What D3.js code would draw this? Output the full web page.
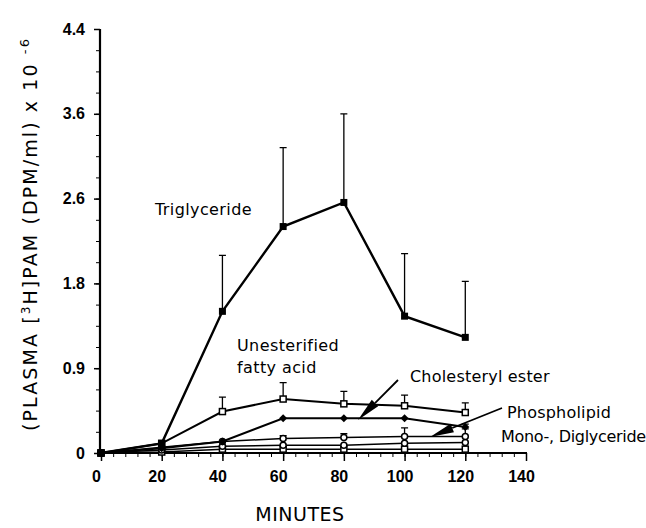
<!DOCTYPE html>
<html>
<head>
<meta charset="utf-8">
<script src="https://cdn.jsdelivr.net/npm/d3@7"></script>
<style>
body { margin: 0; background: #fff; }
svg { display: block; font-family: "DejaVu Sans", sans-serif; }
</style>
</head>
<body>
<svg class="chart" width="646" height="528"></svg>
<script>
const MINUTES = [0, 20, 40, 60, 80, 100, 120];

const triglyceride = [0, 0.1, 1.47, 2.35, 2.6, 1.42, 1.2];
const triglycerideErr = [null, null, 2.05, 3.17, 3.52, 2.07, 1.78];
const fattyAcid = [0, 0.1, 0.43, 0.56, 0.51, 0.49, 0.42];
const fattyAcidErr = [null, null, 0.58, 0.73, 0.64, 0.6, 0.52];
const cholesterylEster = [0, 0.05, 0.12, 0.36, 0.36, 0.36, 0.27];
const cholesterylErr = [null, null, null, null, null, null, 0.3];
const phospholipid = [0, 0.06, 0.12, 0.15, 0.16, 0.17, 0.17];
const phospholipidErr = [null, null, null, 0.18, 0.2, 0.26, 0.25];
const diglyceride = [0, 0.03, 0.07, 0.08, 0.08, 0.1, 0.11];
const monoglyceride = [0, 0.01, 0.04, 0.04, 0.04, 0.04, 0.04];

const Y_TICKS = [0, 0.88, 1.76, 2.64, 3.52, 4.4];
const Y_TICK_LABELS = ["0", "0.9", "1.8", "2.6", "3.6", "4.4"];
const X_TICKS = [0, 20, 40, 60, 80, 100, 120, 140];

const series = [
    { name: "Monoglyceride", values: monoglyceride, err: null, marker: "openSquare", width: 1.5 },
    { name: "Diglyceride", values: diglyceride, err: null, marker: "openCircle", width: 1.5 },
    { name: "Phospholipid", values: phospholipid, err: phospholipidErr, marker: "openCircle", width: 1.5 },
    { name: "Cholesteryl ester", values: cholesterylEster, err: cholesterylErr, marker: "diamond", width: 2 },
    { name: "Unesterified fatty acid", values: fattyAcid, err: fattyAcidErr, marker: "openSquare", width: 2 },
    { name: "Triglyceride", values: triglyceride, err: triglycerideErr, marker: "filledSquare", width: 2.4 }
];

const svg = d3.select('.chart');

var x = d3.scaleLinear().domain([0, 140]).range([101, 526]);
var y = d3.scaleLinear().domain([0, 4.4]).range([453, 29]);

// axes
svg.append('g')
    .attr('transform', 'translate(0,453)')
    .call(d3.axisBottom(x).tickValues(d3.range(0, 141, 4)).tickSize(4).tickFormat(''))
    .call(g => g.select('.domain').remove());

var xAxis = svg.append('g')
    .attr('transform', 'translate(0,453)')
    .call(d3.axisBottom(x).tickValues(X_TICKS).tickSize(8).tickPadding(10));
xAxis.select('.domain').attr('d', 'M100,0H527').attr('stroke-width', 2.2);
xAxis.selectAll('.tick line').attr('stroke-width', 1.5);
xAxis.selectAll('text')
    .attr('dx', -5)
    .style('font-size', '16px')
    .style('font-weight', 'bold')
    .attr('fill', '#000');

svg.append('g')
    .attr('transform', 'translate(100,0)')
    .call(d3.axisLeft(y).tickValues(d3.range(0, 4.41, 0.22)).tickSize(4).tickFormat(''))
    .call(g => g.select('.domain').remove());

var yAxis = svg.append('g')
    .attr('transform', 'translate(100,0)')
    .call(d3.axisLeft(y).tickValues(Y_TICKS).tickSize(6).tickPadding(9)
        .tickFormat((d, i) => Y_TICK_LABELS[i]));
yAxis.select('.domain').attr('d', 'M0,453V29').attr('stroke-width', 2.2);
yAxis.selectAll('.tick line').attr('stroke-width', 1.5);
yAxis.selectAll('text')
    .style('font-size', '16px')
    .style('font-weight', 'bold')
    .attr('fill', '#000');

// lines, error bars, markers
var line = d3.line()
    .x((d, i) => x(MINUTES[i]))
    .y(d => y(d));

series.forEach(s => {
    var g = svg.append('g');

    if (s.err) {
        var bars = s.err.map((e, i) => ({ m: MINUTES[i], v: s.values[i], e: e })).filter(d => d.e !== null);
        g.selectAll('.bar')
            .data(bars)
            .enter()
            .append('path')
            .attr('d', d => 'M' + x(d.m) + ',' + y(d.v) + 'V' + y(d.e) + 'M' + (x(d.m) - 3.5) + ',' + y(d.e) + 'H' + (x(d.m) + 3.5))
            .attr('stroke', '#000')
            .attr('stroke-width', 1.3)
            .attr('fill', 'none');
    }

    g.append('path')
        .datum(s.values)
        .attr('d', line)
        .attr('fill', 'none')
        .attr('stroke', '#000')
        .attr('stroke-width', s.width);

    var pts = g.selectAll('.pt')
        .data(s.values.map((v, i) => [MINUTES[i], v]))
        .enter();

    if (s.marker === 'filledSquare') {
        pts.append('rect')
            .attr('x', d => x(d[0]) - 3.5).attr('y', d => y(d[1]) - 3.5)
            .attr('width', 7).attr('height', 7)
            .attr('fill', '#000');
    } else if (s.marker === 'openSquare') {
        pts.append('rect')
            .attr('x', d => x(d[0]) - 3).attr('y', d => y(d[1]) - 3)
            .attr('width', 6).attr('height', 6)
            .attr('fill', '#fff').attr('stroke', '#000').attr('stroke-width', 1.5);
    } else if (s.marker === 'openCircle') {
        pts.append('circle')
            .attr('cx', d => x(d[0])).attr('cy', d => y(d[1]))
            .attr('r', 3)
            .attr('fill', '#fff').attr('stroke', '#000').attr('stroke-width', 1.5);
    } else if (s.marker === 'diamond') {
        pts.append('path')
            .attr('d', d => 'M' + x(d[0]) + ',' + (y(d[1]) - 4) + 'l4,4l-4,4l-4,-4z')
            .attr('fill', '#000');
    }
});

// annotations
function label(lines, px, py, ls) {
    var t = svg.append('text')
        .attr('x', px).attr('y', py)
        .style('font-size', '16px')
        .style('letter-spacing', ls + 'px');
    lines.forEach((l, i) => {
        t.append('tspan').attr('x', px).attr('dy', i === 0 ? 0 : 22).text(l);
    });
}
label(["Triglyceride"], 155, 215, 0.4);
label(["Unesterified", "fatty acid"], 237, 351, 0.4);
label(["Cholesteryl ester"], 410, 382, 0.2);
label(["Phospholipid"], 507, 418, 0.2);
label(["Mono-, Diglyceride"], 501, 442, -0.3);

function arrow(x1, y1, x2, y2) {
    var ang = Math.atan2(y2 - y1, x2 - x1);
    var len = 24, half = 4.5;
    var bx = x2 - len * Math.cos(ang), by = y2 - len * Math.sin(ang);
    var nx = -Math.sin(ang) * half, ny = Math.cos(ang) * half;
    svg.append('path')
        .attr('d', 'M' + x1 + ',' + y1 + 'L' + bx + ',' + by)
        .attr('stroke', '#000').attr('stroke-width', 1.8);
    svg.append('path')
        .attr('d', 'M' + x2 + ',' + y2 + 'L' + (bx + nx) + ',' + (by + ny) + 'L' + (bx - nx) + ',' + (by - ny) + 'Z')
        .attr('fill', '#000');
}
arrow(398, 380, 358, 420);
arrow(502, 408, 430, 437);

// axis titles
svg.append('text')
    .attr('x', 300).attr('y', 521)
    .attr('text-anchor', 'middle')
    .style('font-size', '19px')
    .style('letter-spacing', '0.5px')
    .text('MINUTES');

var yt = svg.append('text')
    .attr('transform', 'translate(37,234) rotate(-90)')
    .attr('text-anchor', 'middle')
    .style('font-size', '19px')
    .style('letter-spacing', '2.1px');
yt.append('tspan').text('(PLASMA [');
yt.append('tspan').attr('dy', -7).style('font-size', '12px').text('3');
yt.append('tspan').attr('dy', 7).text('H]PAM (DPM/ml) x 10 ');
yt.append('tspan').attr('dy', -8).style('font-size', '13px').text('-6');
</script>
</body>
</html>
